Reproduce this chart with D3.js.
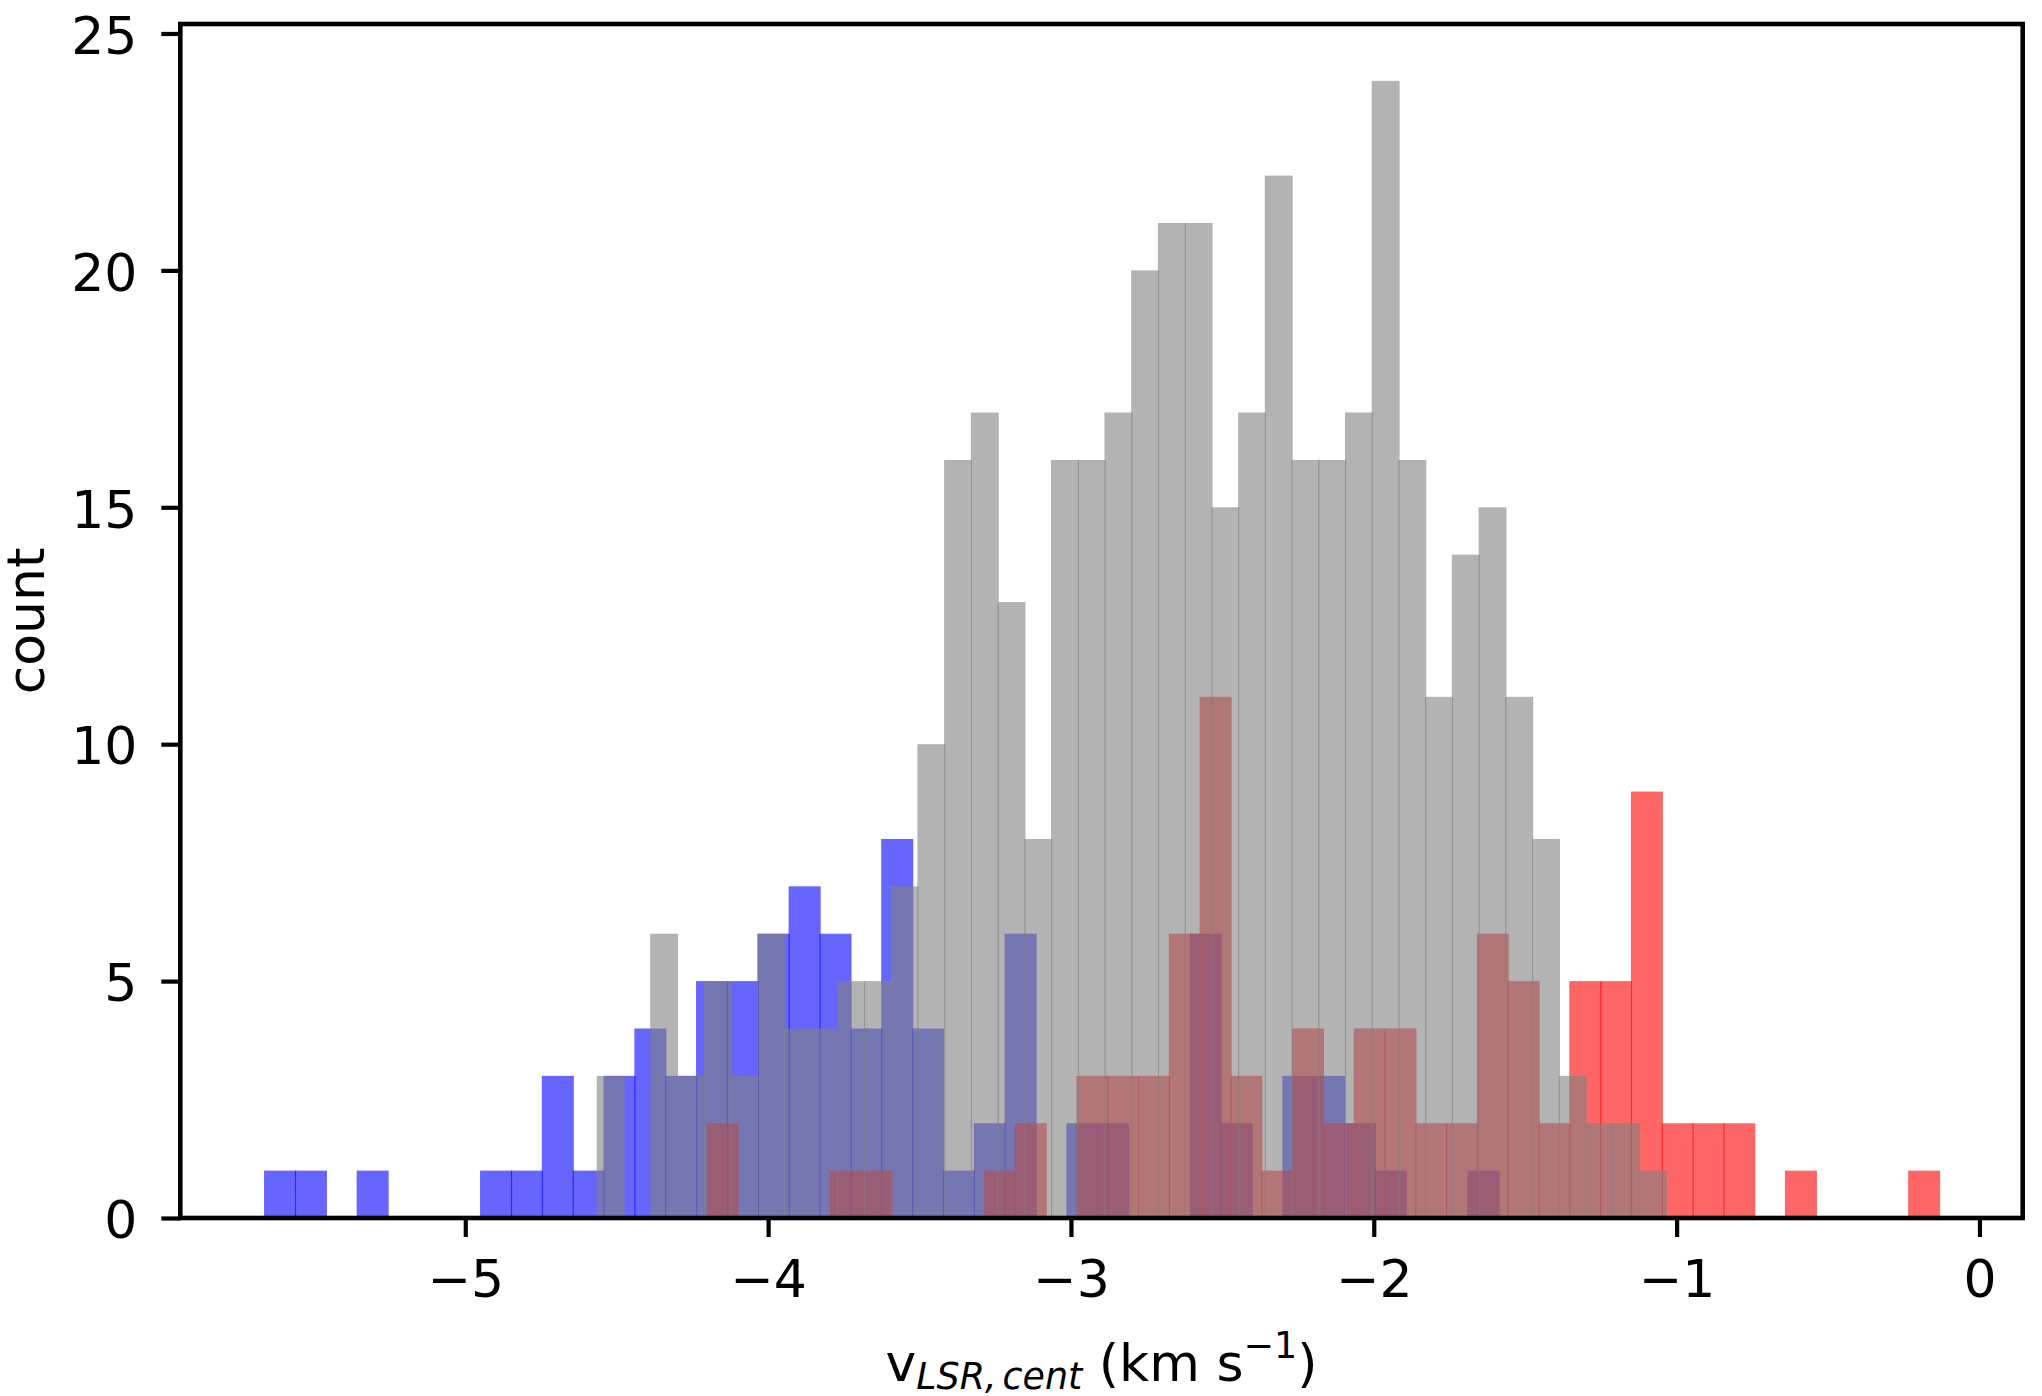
<!DOCTYPE html>
<html>
<head>
<meta charset="utf-8">
<script src="https://cdn.jsdelivr.net/npm/d3@7"></script>
<style>
  body { margin: 0; background: #fff; }
  text { font-family: "DejaVu Sans", sans-serif; }
</style>
</head>
<body>
<svg id="chart"></svg>
<script>
// counts, each group has 40 equal bins over its own range
var blueRange = [-5.6645, -1.5886];
var blueCounts = [1, 1, 0, 1, 0, 0, 0, 1, 1, 3,
                  1, 3, 4, 3, 5, 5, 6, 7, 6, 4,
                  8, 4, 1, 2, 6, 0, 2, 2, 0, 0,
                  6, 2, 0, 3, 3, 2, 1, 0, 0, 1];

var redRange = [-4.2028, -0.1337];
var redCounts = [2, 0, 0, 0, 1, 1, 0, 0, 0, 1,
                 2, 0, 3, 3, 3, 6, 11, 3, 1, 4,
                 2, 4, 4, 2, 2, 6, 5, 2, 5, 5,
                 9, 2, 2, 2, 0, 1, 0, 0, 0, 1];

var grayRange = [-4.566, -1.0362];
var grayCounts = [3, 0, 6, 3, 5, 3, 6, 4, 4, 5,
                  5, 7, 10, 16, 17, 13, 8, 16, 16, 17,
                  20, 21, 21, 15, 17, 22, 16, 16, 17, 24,
                  16, 11, 14, 15, 11, 8, 3, 2, 2, 1];

var xTicks = [-5, -4, -3, -2, -1, 0];
var yTicks = [0, 5, 10, 15, 20, 25];

var width = 2042, height = 1396;
var margin = {top: 24, right: 19.3, bottom: 178, left: 180.3};
var lw = 4.6;

function makeBins(range, counts) {
    var step = (range[1] - range[0]) / counts.length;
    return counts.map(function(c, i) {
        return {x0: range[0] + i * step, x1: range[0] + (i + 1) * step, count: c};
    });
}

// draw order matters: blue under red, gray on top
var groups = [
    {color: "blue", bins: makeBins(blueRange, blueCounts)},
    {color: "red", bins: makeBins(redRange, redCounts)},
    {color: "gray", bins: makeBins(grayRange, grayCounts)}
];

var xmin = d3.min([blueRange[0], redRange[0], grayRange[0]]);
var xmax = d3.max([blueRange[1], redRange[1], grayRange[1]]);
var pad = (xmax - xmin) * 0.05;
var ymax = d3.max([d3.max(blueCounts), d3.max(redCounts), d3.max(grayCounts)]) * 1.05;

var x = d3.scaleLinear()
    .domain([xmin - pad, xmax + pad])
    .range([margin.left, width - margin.right]);

var y = d3.scaleLinear()
    .domain([0, ymax])
    .range([height - margin.bottom, margin.top]);

var svg = d3.select("#chart")
    .attr("width", width)
    .attr("height", height);

groups.forEach(function(g) {
    svg.append("g")
        .selectAll("rect")
        .data(g.bins.filter(function(d) { return d.count > 0; }))
        .enter().append("rect")
        .attr("x", function(d) { return x(d.x0); })
        .attr("width", function(d) { return x(d.x1) - x(d.x0) + 1.2; })
        .attr("y", function(d) { return y(d.count); })
        .attr("height", function(d) { return y(0) - y(d.count); })
        .attr("fill", g.color)
        .attr("fill-opacity", 0.6);
});

function styleAxis(sel) {
    sel.select(".domain").remove();
    sel.attr("font-size", 52)
       .attr("font-family", "DejaVu Sans, sans-serif");
    sel.selectAll(".tick line")
       .attr("stroke", "black")
       .attr("stroke-width", 4.2);
    sel.selectAll(".tick text").attr("fill", "black");
}

svg.append("g")
    .attr("transform", "translate(0," + y(0) + ")")
    .call(d3.axisBottom(x).tickValues(xTicks).tickSize(19).tickPadding(23).tickFormat(d3.format("d")))
    .call(styleAxis);

svg.append("g")
    .attr("transform", "translate(" + margin.left + ",0)")
    .call(d3.axisLeft(y).tickValues(yTicks).tickSize(19).tickPadding(24).tickFormat(d3.format("d")))
    .call(styleAxis)
    .selectAll(".tick text").attr("dy", "0.38em");

// frame
svg.append("rect")
    .attr("x", margin.left)
    .attr("y", margin.top)
    .attr("width", width - margin.left - margin.right)
    .attr("height", height - margin.top - margin.bottom)
    .attr("fill", "none")
    .attr("stroke", "black")
    .attr("stroke-width", lw);

// y label
svg.append("text")
    .attr("transform", "translate(44," + (margin.top + height - margin.bottom) / 2 + ") rotate(-90)")
    .attr("text-anchor", "middle")
    .attr("font-size", 52)
    .text("count");

// x label with sub and superscript
var xl = svg.append("text")
    .attr("x", (margin.left + width - margin.right) / 2)
    .attr("y", 1381)
    .attr("text-anchor", "middle")
    .attr("font-size", 52);
xl.append("tspan").text("v");
xl.append("tspan").attr("font-size", 36.4).attr("font-style", "italic").attr("dy", 8).text("LSR,");
xl.append("tspan").attr("font-size", 36.4).attr("font-style", "italic").attr("dx", 6).text("cent");
xl.append("tspan").attr("dy", -8).text(" (km s");
xl.append("tspan").attr("font-size", 36.4).attr("dy", -23).text("\u22121");
xl.append("tspan").attr("dy", 23).text(")");
</script>
</body>
</html>
